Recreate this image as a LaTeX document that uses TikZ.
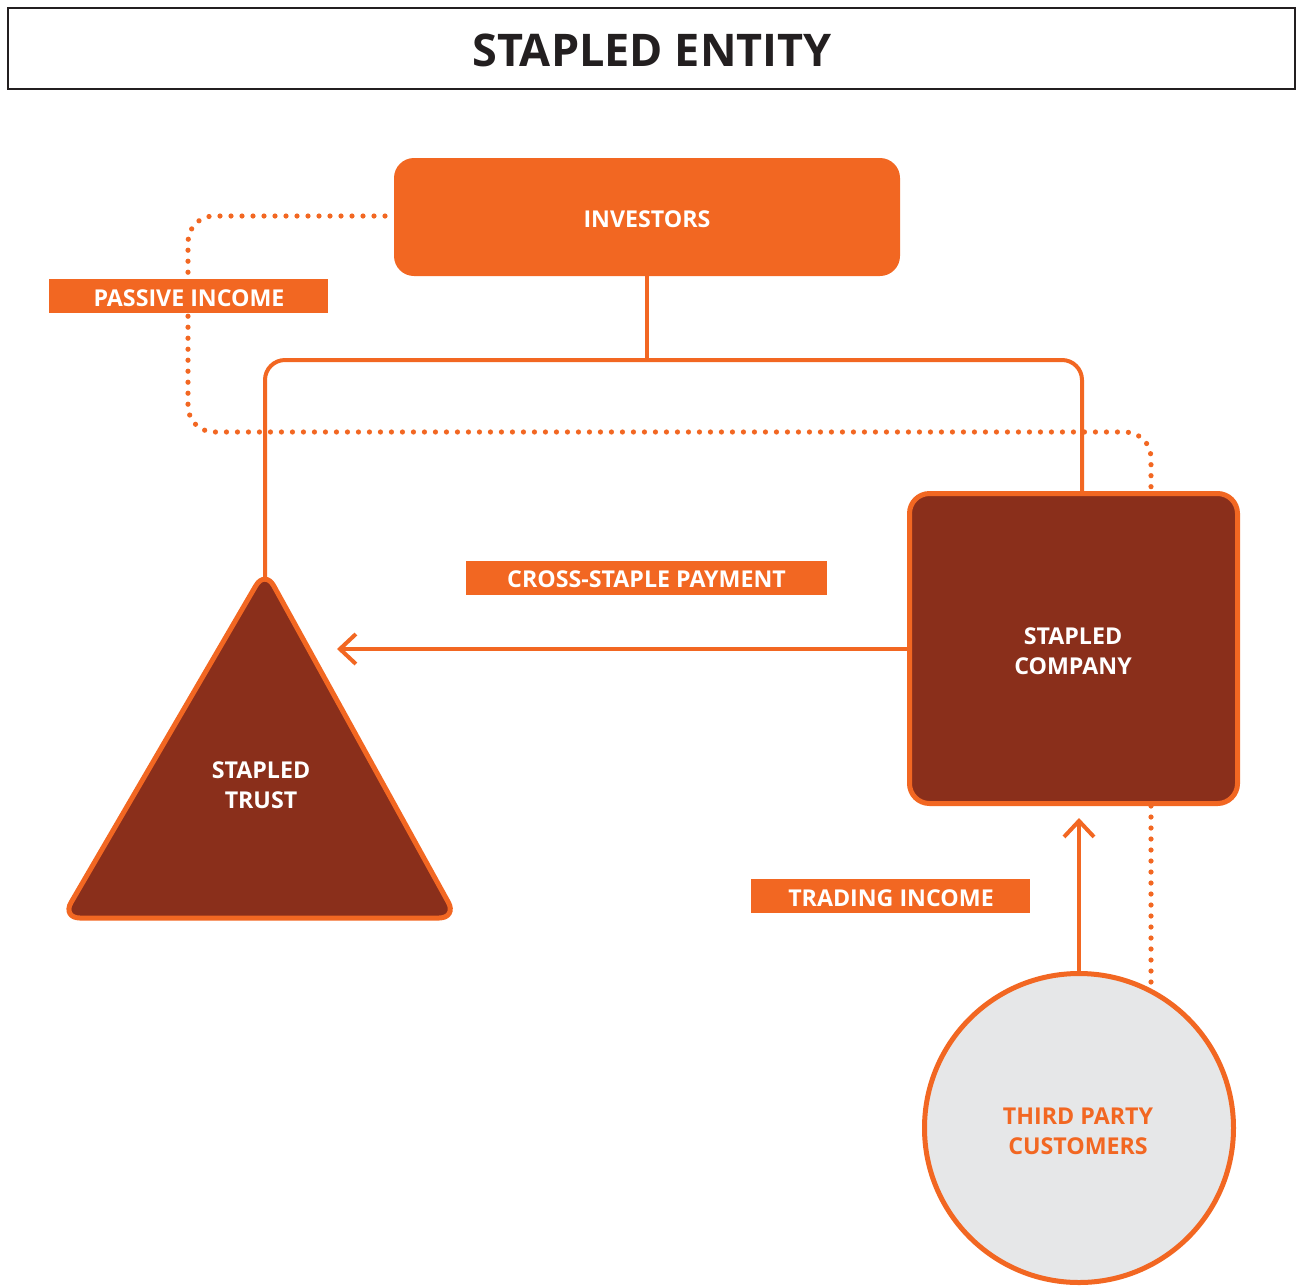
\documentclass[tikz,border=0pt]{standalone}
\usepackage{fontspec}
\setmainfont{Open Sans}
\usetikzlibrary{arrows.meta}
\definecolor{orng}{HTML}{F26722}
\definecolor{brwn}{HTML}{8A2F1B}
\definecolor{lgray}{HTML}{E6E7E8}
\definecolor{ink}{HTML}{231F20}
\tikzset{
  lbl/.style={fill=orng, text=white, font=\bfseries\fontsize{11.6}{15}\selectfont, inner sep=0pt, minimum height=17pt},
  wtext/.style={text=white, font=\bfseries\fontsize{11.6}{15}\selectfont, align=center},
  conn/.style={draw=orng, line width=2pt},
  dotline/.style={draw=orng, line width=2.6pt, line cap=round, dash pattern=on 0pt off 5.5pt},
  tip/.style={-{Straight Barb[length=8pt,width=15pt,line width=2pt]}}
}
\begin{document}
\begin{tikzpicture}[x=0.5pt,y=-0.5pt]
\useasboundingbox (0,0) rectangle (1296,1286);
% title
\node (title) [draw=ink, line width=1.4pt, minimum width=643.5pt, minimum height=40.5pt, inner sep=0pt] at (651.5,48.5) {};
\node (titletext) [text=ink, font=\bfseries\fontsize{22.5}{24}\selectfont] at (652,50) {STAPLED ENTITY};
% investors
\node (inv) [fill=orng, rounded corners=10pt, minimum width=253pt, minimum height=59pt, inner sep=0pt] at (647,217) {};
\node (invtext) [wtext] at (647,219) {INVESTORS};
% coordinates
\coordinate (trusttop) at (265,578);
\coordinate (bracket) at (647,360);
\coordinate (dotstart) at (385,216);
\coordinate (arrowend) at (337,649);
\node (comp) [draw=orng, fill=brwn, line width=2.5pt, rounded corners=10pt, minimum width=164pt, minimum height=155pt,
  inner sep=0pt] at (1073.5,648.5) {};
\node (comptext) [wtext] at (1073,651) {STAPLED\\COMPANY};
\node (cust) [circle, draw=orng, fill=lgray, line width=2.5pt, minimum size=154.5pt, inner sep=0pt] at (1079,1128) {};
\node (custtext) [text=orng, font=\bfseries\fontsize{11.6}{15}\selectfont, align=center] at (1078,1131) {THIRD PARTY\\CUSTOMERS};
% dotted passive income path
\path[dotline, rounded corners=13pt] (dotstart) -- (188,216) -- (188,432) -- (1151,432) -- (comp.north -| 1151,0);
\path[dotline] (comp.south -| 1151,0) -- (1151,988);
% bracket
\draw[conn] (inv.south) -- (bracket);
\draw[conn, rounded corners=10pt] (trusttop) -- (265,360) -- (1082,360) -- (comp.north -| 1082,0);
% trust triangle
\filldraw[draw=orng, fill=brwn, line width=2.5pt, rounded corners=9pt] (265,570) -- (457,918) -- (62,918) -- cycle;
\node (trust) [wtext] at (261,785) {STAPLED\\TRUST};
% arrows
\draw[conn, tip] (comp.west |- arrowend) -- (arrowend);
\draw[conn, tip] (cust.north) -- (1079,818);
% labels
\node (pi) [lbl, minimum width=139.5pt] at (188.5,296) {};
\node (pitext) [lbl, fill=none] at (189,298) {PASSIVE INCOME};
\node (csp) [lbl, minimum width=180.5pt] at (646.5,577.5) {};
\node (csptext) [lbl, fill=none] at (646.5,579.5) {CROSS-STAPLE PAYMENT};
\node (ti) [lbl, minimum width=139.5pt] at (890.5,896) {};
\node (titext) [lbl, fill=none] at (891,898) {TRADING INCOME};
\end{tikzpicture}
\end{document}
